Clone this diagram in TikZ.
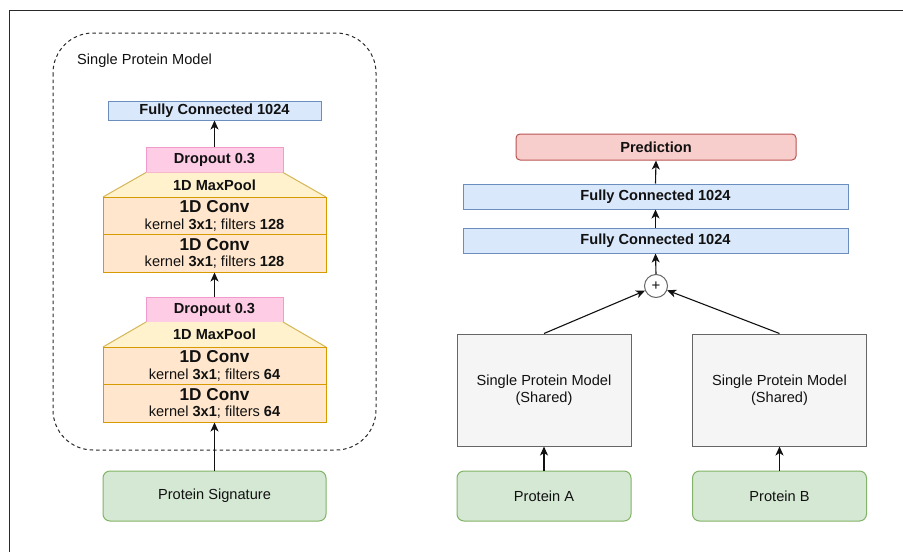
\documentclass[tikz,border=0pt]{standalone}
\usepackage{fontspec}
\setmainfont{Liberation Sans}
\usetikzlibrary{arrows.meta}

\definecolor{frameC}{HTML}{2A2A2A}
\definecolor{blueF}{HTML}{DAE8FC}\definecolor{blueD}{HTML}{6C8EBF}
\definecolor{pinkF}{HTML}{FFCCE6}\definecolor{pinkD}{HTML}{F29AC9}
\definecolor{convF}{HTML}{FFE6CC}\definecolor{convD}{HTML}{D79B00}
\definecolor{poolF}{HTML}{FFF2CC}\definecolor{poolD}{HTML}{D6B656}
\definecolor{redF}{HTML}{F8CECC}\definecolor{redD}{HTML}{B85450}
\definecolor{greenF}{HTML}{D5E8D4}\definecolor{greenD}{HTML}{82B366}
\definecolor{greyF}{HTML}{F5F5F5}\definecolor{greyD}{HTML}{666666}
\definecolor{ink}{HTML}{111111}

\newcommand{\txtsize}{\fontsize{14.6}{17.5}\selectfont}
\newcommand{\convhead}{\fontsize{17.2}{18}\selectfont\bfseries}

\tikzset{
  box/.style={draw, line width=1pt, inner sep=0pt, text=ink, font=\txtsize, align=center},
  fcbox/.style={box, fill=blueF, draw=blueD, font=\txtsize\bfseries},
  dropbox/.style={box, fill=pinkF, draw=pinkD, font=\txtsize\bfseries,
                  minimum width=137pt, minimum height=25pt},
  convbox/.style={box, fill=convF, draw=convD, minimum width=223pt, minimum height=37.5pt},
  inbox/.style={box, fill=greenF, draw=greenD, rounded corners=7pt, minimum height=50pt},
  spmbox/.style={box, fill=greyF, draw=greyD, minimum width=174pt, minimum height=112pt},
  flow/.style={draw=ink, line width=1.1pt, -{Stealth[length=9pt,width=8pt,inset=2.5pt]}},
}

\begin{document}
\begin{tikzpicture}[x=1pt, y=-1pt]
\useasboundingbox (0,0) rectangle (903,552);
\fill[white] (0,0) rectangle (903,552);

% outer frame (top and left edges)
\draw[frameC, line width=1.8pt] (903,10.5) -- (9.5,10.5) -- (9.5,552);

% ---------- single protein model ----------
\draw[frameC, line width=1pt, dash pattern=on 3.5pt off 3pt, rounded corners=40pt]
  (53,33) rectangle (376,450);
\node[anchor=west, font=\txtsize, text=ink, inner sep=0pt] (title) at (77,61) {Single Protein Model};

\node[fcbox, minimum width=213pt, minimum height=19pt] (fcL) at (214.5,110.5) {Fully Connected 1024};

% upper block
\node[dropbox] (dropA) at (214.5,160) {Dropout 0.3};
\coordinate (pAtl) at (146,172.5);
\coordinate (pAtr) at (283,172.5);
\coordinate (pAbr) at (326,197);
\coordinate (pAbl) at (103,197);
\fill[poolF] (pAtl) -- (pAtr) -- (pAbr) -- (pAbl) -- cycle;
\draw[poolD, line width=1pt] (pAtl) -- (pAbl) (pAtr) -- (pAbr);
\node[font=\txtsize\bfseries, text=ink, inner sep=0pt] (poolA) at (214.5,185) {1D MaxPool};
\node[convbox] (convA1) at (214.5,215.75)
  {{\convhead 1D Conv}\\[-1pt]kernel \textbf{3x1}; filters \textbf{128}};
\node[convbox] (convA2) at (214.5,253.25)
  {{\convhead 1D Conv}\\[-1pt]kernel \textbf{3x1}; filters \textbf{128}};

% lower block
\node[dropbox] (dropB) at (214.5,309.5) {Dropout 0.3};
\coordinate (pBtl) at (146,322);
\coordinate (pBtr) at (283,322);
\coordinate (pBbr) at (326,347);
\coordinate (pBbl) at (103,347);
\fill[poolF] (pBtl) -- (pBtr) -- (pBbr) -- (pBbl) -- cycle;
\draw[poolD, line width=1pt] (pBtl) -- (pBbl) (pBtr) -- (pBbr);
\node[font=\txtsize\bfseries, text=ink, inner sep=0pt] (poolB) at (214.5,334.5) {1D MaxPool};
\node[convbox] (convB1) at (214.5,365.75)
  {{\convhead 1D Conv}\\[-1pt]kernel \textbf{3x1}; filters \textbf{64}};
\node[convbox] (convB2) at (214.5,403.25)
  {{\convhead 1D Conv}\\[-1pt]kernel \textbf{3x1}; filters \textbf{64}};

\node[inbox, minimum width=223pt] (sig) at (214.5,496) {Protein Signature};

\draw[flow] (sig.north) -- (convB2.south);
\draw[flow] (dropB.north) -- (convA2.south);
\draw[flow] (dropA.north) -- (fcL.south);

% ---------- pair model ----------
\node[box, fill=redF, draw=redD, rounded corners=4pt, font=\txtsize\bfseries,
      minimum width=280pt, minimum height=26pt] (pred) at (656,147) {Prediction};
\node[fcbox, minimum width=385pt, minimum height=25pt] (fc2) at (655.5,196.5) {Fully Connected 1024};
\node[fcbox, minimum width=385pt, minimum height=25pt] (fc1) at (655.5,240.5) {Fully Connected 1024};
\node[circle, draw=greyD, fill=white, line width=1pt, minimum size=23pt, inner sep=0pt,
      font=\fontsize{15}{15}\selectfont, text=ink] (plus) at (656,286) {+};

\node[spmbox] (spmA) at (544,390) {Single Protein Model\\(Shared)};
\node[spmbox] (spmB) at (779.5,390) {Single Protein Model\\(Shared)};
\node[inbox, minimum width=174pt] (protA) at (544,496) {Protein A};
\node[inbox, minimum width=174pt] (protB) at (779.5,496) {Protein B};

\draw[flow] (protA.north) -- (spmA.south);
\draw[flow] (protB.north) -- (spmB.south);
\draw[flow] (spmA.north) -- (plus);
\draw[flow] (spmB.north) -- (plus);
\draw[flow] (plus.north) -- (fc1.south);
\draw[flow] (fc1.north) -- (fc2.south);
\draw[flow] (fc2.north) -- (pred.south);
\end{tikzpicture}
\end{document}
